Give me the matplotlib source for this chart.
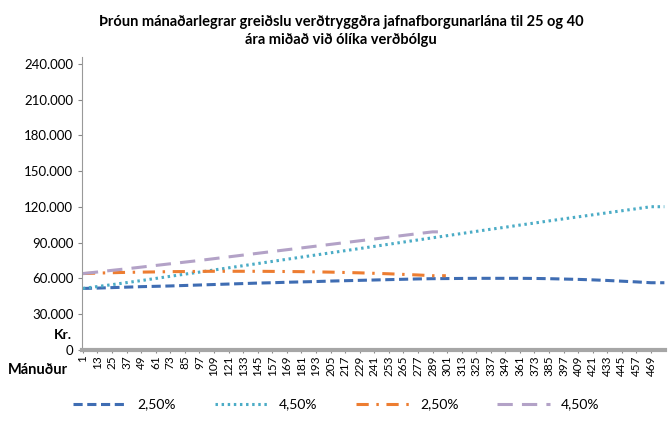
import numpy as np
import matplotlib.pyplot as plt
from matplotlib.ticker import FuncFormatter

plt.rcParams['font.family'] = ['Lato', 'DejaVu Sans']

# greiðsla í byrjun hvers árs (mánuður 1, 13, 25, ...)
ar40_25 = [51500, 51800, 52200, 52600, 53000, 53300, 53600, 54000, 54400, 54800,
           55200, 55600, 56000, 56300, 56700, 57000, 57300, 57700, 58000, 58300,
           58600, 58900, 59200, 59500, 59700, 59800, 59900, 60000, 60000, 60000,
           60000, 59900, 59700, 59400, 59100, 58700, 58200, 57600, 57000, 56300]
ar40_45 = [51500, 53100, 54700, 56400, 58100, 59900, 61700, 63500, 65200, 67000,
           68800, 70600, 72400, 74200, 76000, 77800, 79600, 81400, 83200, 85000,
           86800, 88600, 90400, 92200, 94000, 95800, 97600, 99400, 101200, 102900,
           104700, 106400, 108200, 109900, 111600, 113300, 115000, 116700, 118400, 120100]
ar25_25 = [64000, 64400, 64700, 65000, 65200, 65400, 65600, 65700, 65800, 65900,
           65900, 65900, 65900, 65800, 65700, 65600, 65400, 65200, 64900, 64600,
           64200, 63800, 63300, 62800, 62200]
ar25_45 = [64000, 65300, 66700, 68000, 69400, 70800, 72200, 73600, 75000, 76500,
           78000, 79500, 81000, 82500, 84000, 85500, 87000, 88500, 90000, 91500,
           93000, 94500, 96000, 97500, 99000]

def manudir(vals, n):
    x = [1 + 12 * i for i in range(len(vals))] + [n]
    return x, list(vals) + [vals[-1]]

fig = plt.figure(figsize=(6.69, 4.23), dpi=100)
ax = fig.add_axes([0.123, 0.173, 0.871, 0.693])

x, y = manudir(ar40_25, 480)
ax.plot(x, y, color='#3F6DB3', lw=2.2, ls=(0, (3, 1.5)), label='2,50%')
x, y = manudir(ar40_45, 480)
ax.plot(x, y, color='#4BACC6', lw=2.2, ls=(0, (0.8, 1.2)), label='4,50%')
x, y = manudir(ar25_25, 300)
ax.plot(x, y, color='#ED7D31', lw=2.2, ls=(0, (4, 2.5, 0.8, 2.5)), label='2,50%')
x, y = manudir(ar25_45, 300)
ax.plot(x, y, color='#B3A2C7', lw=2.2, ls=(0, (5, 3)), label='4,50%')

ax.set_xlim(0.5, 480.5)
ax.set_ylim(0, 246000)
ax.set_yticks(range(0, 240001, 30000))
ax.yaxis.set_major_formatter(FuncFormatter(lambda v, p: f'{int(v):,}'.replace(',', '.')))
ax.set_xticks(range(1, 481, 12))
ax.set_xticklabels([str(m) for m in range(1, 481, 12)], rotation=90, fontsize=8.5)
ax.tick_params(axis='y', labelsize=9.5, length=3, color='#888888')
ax.tick_params(axis='x', length=2, color='#888888', pad=2)

for s in ['top', 'right']:
    ax.spines[s].set_visible(False)
ax.spines['left'].set_color('#999999')
ax.spines['bottom'].set_color('#A6A6A6')
ax.spines['bottom'].set_linewidth(3)

ax.text(-0.018, 0.05, 'Kr.', transform=ax.transAxes, ha='right', va='center',
        fontsize=10, fontweight='bold')
ax.text(-0.024, -0.068, 'Mánuður', transform=ax.transAxes, ha='right', va='center',
        fontsize=10.5, fontweight='bold')

fig.suptitle('Þróun mánaðarlegrar greiðslu verðtryggðra jafnafborgunarlána til 25 og 40\n'
             'ára miðað við ólíka verðbólgu', x=0.51, y=0.965, fontsize=10.5,
             fontweight='bold', linespacing=1.4)

fig.legend(loc='lower center', ncol=4, frameon=False, fontsize=10,
           bbox_to_anchor=(0.503, 0.0), handlelength=3.8, columnspacing=2.8)

fig.savefig('out.png', dpi=100)
